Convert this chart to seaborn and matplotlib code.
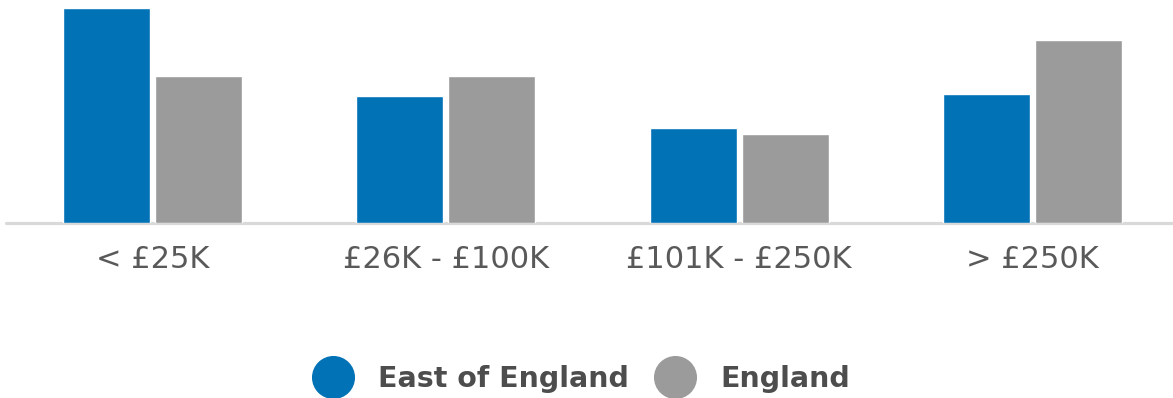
import matplotlib
matplotlib.use("Agg")
import matplotlib.pyplot as plt
from matplotlib.lines import Line2D
import seaborn as sns
import pandas as pd

# Share of businesses by turnover band (%)
bands = ["< £25K", "£26K - £100K", "£101K - £250K", "> £250K"]
east_of_england = [37.9, 22.5, 16.8, 22.8]
england = [26.0, 26.0, 15.7, 32.3]
series_names = ["East of England", "England"]
palette = {"East of England": "#0072b5", "England": "#9b9b9b"}

df = pd.DataFrame({
    "band": bands * 2,
    "share": east_of_england + england,
    "area": [series_names[0]] * len(bands) + [series_names[1]] * len(bands),
})

sns.set_theme(style="white")
plt.rcParams["font.family"] = ["DejaVu Sans"]

fig = plt.figure(figsize=(11.73, 3.98), dpi=100)
ax = fig.add_axes([6 / 1173, (398 - 223) / 398, 1173 / 1173, 223 / 398])

sns.barplot(data=df, x="band", y="share", hue="area", order=bands,
            hue_order=series_names, palette=palette, width=0.627, gap=0.054,
            saturation=1, legend=False, ax=ax, zorder=2)

ax.set_xlim(-0.5, 3.5)
ax.set_ylim(0, 39.4)
ax.axhline(0, color="#d9d9d9", lw=2.3, zorder=1, clip_on=False)
for s in ax.spines.values():
    s.set_visible(False)
ax.set_yticks([])
ax.set_xlabel("")
ax.set_ylabel("")
ax.tick_params(axis="x", length=0, pad=16, labelsize=22, labelcolor="#595959")

handles = [Line2D([], [], marker="o", linestyle="none", markersize=31,
                  markerfacecolor=palette[n], markeredgewidth=0) for n in series_names]
fig.legend(handles, series_names, loc="center", bbox_to_anchor=(577 / 1173, 1 - 379 / 398),
           ncol=2, frameon=False, handletextpad=0.6, columnspacing=0.6,
           prop={"weight": "bold", "size": 20.5}, labelcolor="#4d4d4d")

fig.savefig("out.png", dpi=100)
